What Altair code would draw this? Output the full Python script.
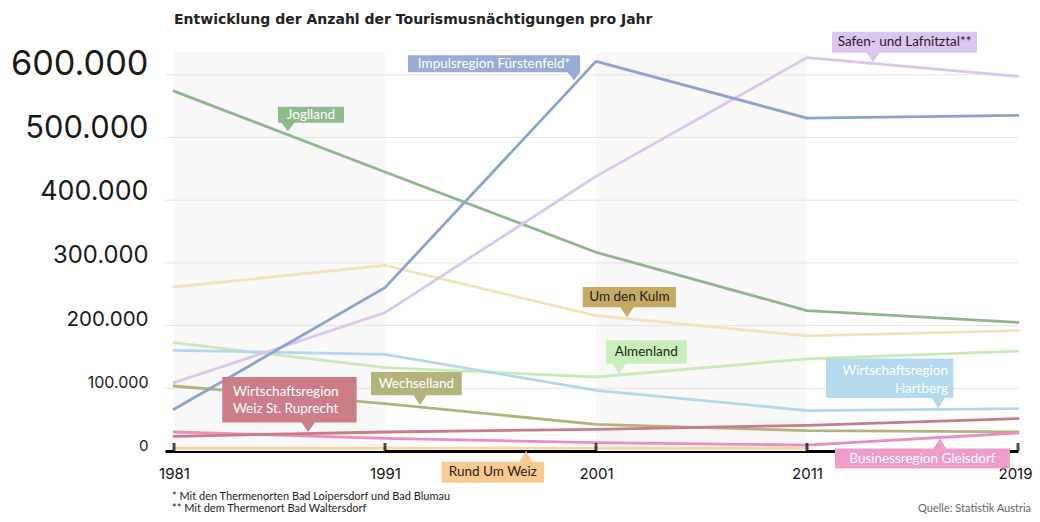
import altair as alt
import pandas as pd

# ---------------- data ----------------
years = ["1981", "1991", "2001", "2011", "2019"]
year_idx = [0, 1, 2, 3, 4]

series_names = [
    "Um den Kulm", "Almenland", "Wirtschaftsregion Hartberg", "Wechselland",
    "Rund Um Weiz", "Businessregion Gleisdorf", "Wirtschaftsregion Weiz St. Ruprecht",
    "Joglland", "Safen- und Lafnitztal**", "Impulsregion Fürstenfeld*",
]
um_den_kulm = [261600, 296200, 216000, 183500, 192000]
almenland = [172900, 133000, 118000, 147000, 159300]
hartberg = [160600, 154200, 96800, 64500, 67600]
wechselland = [103700, 75500, 42500, 32500, 30500]
rund_um_weiz = [4500, 4500, 4500, 4500, None]
gleisdorf = [30300, 20200, 13400, 9500, 28700]
weiz_st_ruprecht = [23400, 30300, 34600, 41000, 51700]
joglland = [574000, 445000, 317000, 224000, 205000]
safen_lafnitztal = [109000, 220700, 438000, 627400, 597600]
impulsregion = [66500, 260600, 621500, 531000, 535400]
series_values = [um_den_kulm, almenland, hartberg, wechselland, rund_um_weiz,
                 gleisdorf, weiz_st_ruprecht, joglland, safen_lafnitztal, impulsregion]
line_colors = ["#f3e2b9", "#c8ebb5", "#b3d8ee", "#b2b37c", "#fcd49e",
               "#ea8dc3", "#cb7b87", "#8cb88a", "#dcc5ee", "#8aa3cf"]

y_tick_values = [0, 100000, 200000, 300000, 400000, 500000, 600000]
y_tick_labels = ["0", "100.000", "200.000", "300.000", "400.000", "500.000", "600.000"]
y_tick_sizes = [15, 16, 20.5, 23.8, 26.8, 30.8, 34.3]

band_start = [0, 2]
band_end = [1, 3]

title_text = "Entwicklung der Anzahl der Tourismusnächtigungen pro Jahr"
footnote_1 = "* Mit den Thermenorten Bad Loipersdorf und Bad Blumau"
footnote_2 = "** Mit dem Thermenort Bad Waltersdorf"
source_text = "Quelle: Statistik Austria"

# label annotations: anchor (tip) in data units
ann_lines = [
    ["Impulsregion Fürstenfeld*"], ["Safen- und Lafnitztal**"], ["Joglland"],
    ["Um den Kulm"], ["Almenland"], ["Wirtschaftsregion", "Hartberg"],
    ["Wechselland"], ["Wirtschaftsregion", "Weiz St. Ruprecht"],
    ["Rund Um Weiz"], ["Businessregion Gleisdorf"],
]
ann_tip_i = [1.896, 3.313, 0.540, 2.147, 2.109, 3.622, 1.166, 0.636, 1.668, 3.630]
ann_tip_v = [591200, 619900, 509900, 213200, 123400, 67600, 72900, 30300, 0, 19800]

# styling of the annotation boxes (pixel geometry relative to the tip)
ann_box = [(-166, 6, -25, -8), (-41, 104, -30.5, -9.5), (-10, 56, -24.5, -8.5),
           (-44.3, 49, -30.3, -10), (-13, 67.7, -33.3, -10), (-112.3, 15, -50, -10.6),
           (-49, 41.7, -33.3, -10), (-86, 48.4, -55, -9.4), (-84.3, 18, 10.7, 31.7),
           (-105, 70, 10, 30)]
ann_down = [True, True, True, True, True, True, True, True, False, False]
ann_fill = ["#98acd5", "#dcc6ef", "#8fba8c", "#c5aa63", "#c9f0ba", "#b5daef",
            "#b4b37c", "#cc7d86", "#fcca90", "#f09dc9"]
ann_text_color = ["#ffffff", "#1e1e1e", "#ffffff", "#1e1e1e", "#1e1e1e", "#ffffff",
                  "#ffffff", "#ffffff", "#1e1e1e", "#ffffff"]
ann_align = ["center", "center", "center", "center", "center", "right",
             "center", "left", "center", "center"]
ann_text_pos = [None, None, None, None, None, [(9.7, -37.6), (9.7, -20)],
                None, [(-75.3, -40), (-75.3, -22.7)], None, None]

FONT = "Lato"
W, H = 853, 399

# ---------------- scales / encodings ----------------
xscale = alt.Scale(domain=[-0.0427, 4], nice=False, zero=False)
yscale = alt.Scale(domain=[0, 636400], nice=False, zero=True)
label_expr = "[" + ",".join("'%s'" % y for y in years) + "][datum.value]"
last = "datum.value == %d" % year_idx[-1]
xaxis = alt.Axis(values=year_idx, labelExpr=label_expr, title=None, grid=False,
                 ticks=False, domainColor="#000000", domainWidth=3, labelPadding=15,
                 labelFontSize=15, labelFont="Inter", labelColor="#111111",
                 labelAlign={"condition": {"test": last, "value": "right"}, "value": "center"},
                 labelOffset={"condition": {"test": last, "value": 14}, "value": 0},
                 labelFlush=False, labelOverlap=False, labelBound=False)


def X(field):
    return alt.X(field, type="quantitative", scale=xscale, axis=xaxis)


def Y(field):
    return alt.Y(field, type="quantitative", scale=yscale, axis=None)


layers = []

# shaded bands
bands = pd.DataFrame({"i": band_start, "i2": band_end})
layers.append(alt.Chart(bands).mark_rect(color="#f8f8f8").encode(
    x=X("i"), x2="i2"))

# gridlines
grid = pd.DataFrame({"v": y_tick_values[1:]})
layers.append(alt.Chart(grid).mark_rule(color="#e4e4e4", strokeWidth=1).encode(
    y=Y("v")))

# lines
rows = []
for name, vals in zip(series_names, series_values):
    for i, v in zip(year_idx, vals):
        if v is not None:
            rows.append({"series": name, "i": i, "v": v})
lines_df = pd.DataFrame(rows)
layers.append(alt.Chart(lines_df).mark_line(strokeWidth=2.8, strokeCap="round",
                                             strokeJoin="round").encode(
    x=X("i"), y=Y("v"),
    color=alt.Color("series:N", scale=alt.Scale(domain=series_names, range=line_colors),
                    legend=None),
    order=alt.Order("i:Q"),
    detail="series:N"))

# axis ticks
ticks = pd.DataFrame({"i": year_idx, "v": [0] * len(year_idx)})
layers.append(alt.Chart(ticks).mark_tick(orient="vertical", size=8, thickness=3,
                                         color="#000000", yOffset=-4).encode(
    x=X("i"), y=Y("v")))

# y labels
ylab = pd.DataFrame({"v": y_tick_values, "label": y_tick_labels, "fs": y_tick_sizes})
layers.append(alt.Chart(ylab).mark_text(align="right", baseline="alphabetic",
                                        font="Inter", color="#1a1a1a").encode(
    y=Y("v"), x=alt.value(-16.5), text="label:N",
    size=alt.Size("fs:Q", scale=None)))


def box_path(x0, x1, y0, y1, down, pw=6.5):
    pl = max(-pw, x0)
    pr = min(pw, x1)
    if down:
        return f"M{x0},{y0}H{x1}V{y1}H{pr}L0,0L{pl},{y1}H{x0}Z"
    return f"M{x0},{y0}H{pl}L0,0L{pr},{y0}H{x1}V{y1}H{x0}Z"


for k in range(len(ann_lines)):
    df = pd.DataFrame({"i": [ann_tip_i[k]], "v": [ann_tip_v[k]]})
    x0, x1, y0, y1 = ann_box[k]
    layers.append(alt.Chart(df).mark_point(
        shape=box_path(x0, x1, y0, y1, ann_down[k]), size=4, filled=True,
        opacity=1, strokeWidth=0, color=ann_fill[k]).encode(x=X("i"), y=Y("v")))
    if ann_text_pos[k] is None:
        positions = [((x0 + x1) / 2, (y0 + y1) / 2)]
    else:
        positions = ann_text_pos[k]
    for line, (dx, dy) in zip(ann_lines[k], positions):
        ldf = pd.DataFrame({"i": [ann_tip_i[k]], "v": [ann_tip_v[k]], "t": [line]})
        layers.append(alt.Chart(ldf).mark_text(
            align=ann_align[k], baseline="middle", dx=dx, dy=dy, font=FONT,
            fontSize=13.5, color=ann_text_color[k]).encode(
            x=X("i"), y=Y("v"), text="t:N"))

# title and footnotes
layers.append(alt.Chart(pd.DataFrame({"t": [title_text]})).mark_text(
    align="left", baseline="middle", font="DejaVu Sans", fontSize=14,
    fontWeight="bold", color="#222222").encode(
    x=alt.value(9), y=alt.value(-32), text="t:N"))
layers.append(alt.Chart(pd.DataFrame({"t": [footnote_1]})).mark_text(
    align="left", baseline="middle", font=FONT, fontSize=11,
    color="#222222").encode(x=alt.value(7), y=alt.value(445), text="t:N"))
layers.append(alt.Chart(pd.DataFrame({"t": [footnote_2]})).mark_text(
    align="left", baseline="middle", font=FONT, fontSize=11,
    color="#222222").encode(x=alt.value(7), y=alt.value(457), text="t:N"))
layers.append(alt.Chart(pd.DataFrame({"t": [source_text]})).mark_text(
    align="right", baseline="middle", font=FONT, fontSize=11,
    color="#666666").encode(x=alt.value(866), y=alt.value(457), text="t:N"))

chart = alt.layer(*layers).properties(
    width=W, height=H,
    padding={"left": 157, "top": 44, "right": 14, "bottom": 63},
    autosize=alt.AutoSizeParams(type="none"),
).configure_view(stroke=None)

chart.save("out.html", embed_options={"renderer": "svg", "actions": False})
